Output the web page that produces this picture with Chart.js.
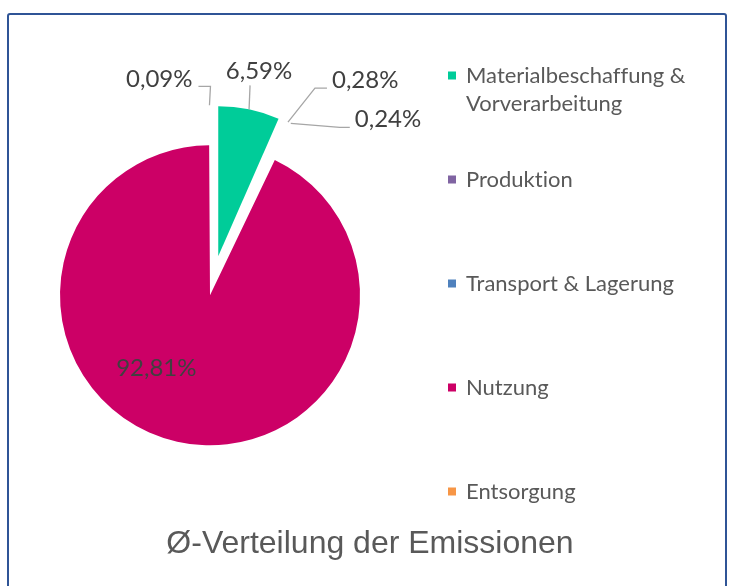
<!DOCTYPE html>
<html>
<head>
<meta charset="utf-8">
<script src="https://cdn.jsdelivr.net/npm/chart.js@4.4.1/dist/chart.umd.min.js"></script>
<style>
  html, body { margin: 0; padding: 0; background: #fff; }
  #wrap { position: relative; width: 731px; height: 586px; overflow: hidden; }
  #canvas_pie { position: absolute; left: 0; top: 0; }
  #frame { position: absolute; left: 7px; top: 13px; width: 720px; height: 640px; box-sizing: border-box;
           border: 2px solid #2f5496; border-radius: 3px; pointer-events: none; }
</style>
</head>
<body>
<div id="wrap">
  <canvas id="canvas_pie" width="731" height="586"></canvas>
  <div id="frame"></div>
</div>
<script>
// data
var categories = ['Materialbeschaffung & Vorverarbeitung', 'Produktion', 'Transport & Lagerung', 'Nutzung', 'Entsorgung'];
var shares = [6.59, 0.28, 0.24, 92.81, 0.09];
var sliceColors = ['#00CC99', '#8064A2', '#4F81BD', '#CC0066', '#F79646'];
var explode = [160, 160, 160, 0, 160];
var chartTitle = 'Ø-Verteilung der Emissionen';

// where each value label sits relative to the edge of its slice
var labelPlace = [
  {ex: 1, ey: -24, h: 0, tx: 9, ty: -14, align: 'center'},
  {ex: 27, ey: -34, h: 12, tx: 5, ty: -8, align: 'left'},
  {ex: 49, ey: 4, h: 10, tx: 5, ty: -8.5, align: 'left'},
  {inside: 0.6, tx: -34, ty: -15},
  {ex: 1, ey: -19, h: -12, tx: -6, ty: -7.5, align: 'right'}
];

function fmtPct(v) {
  return v.toFixed(2).replace('.', ',') + '%';
}

function wrapText(ctx, text, maxW) {
  var words = text.split(' '), lines = [], cur = '';
  words.forEach(function(w) {
    var t = cur ? cur + ' ' + w : w;
    if (cur && ctx.measureText(t).width > maxW) { lines.push(cur); cur = w; }
    else cur = t;
  });
  lines.push(cur);
  return lines;
}

// exploded slices keep the same radius as the rest of the pie
var explodeFix = {
  id: 'explodeFix',
  afterDatasetUpdate: function(chart, args) {
    args.meta.data.forEach(function(arc) {
      var off = (arc.options.offset || 0) / 4;
      arc.baseRadius = arc.outerRadius;
      if (!off) return;
      var ro = off * (1 - Math.sin(Math.min(Math.PI, arc.circumference)));
      var base = arc.outerRadius;
      if (arc.circumference * base > ro / Math.PI) {
        var widen = ro / Math.PI / base;
        arc.startAngle -= widen / 2;
        arc.endAngle += widen / 2;
      }
      arc.outerRadius = base - ro;
    });
  }
};

var sliceLabels = {
  id: 'sliceLabels',
  afterDatasetsDraw: function(chart) {
    var ctx = chart.ctx;
    var meta = chart.getDatasetMeta(0);
    ctx.save();
    ctx.font = '24px Lato';
    ctx.textBaseline = 'middle';
    meta.data.forEach(function(arc, i) {
      var p = labelPlace[i];
      var mid = (arc.startAngle + arc.endAngle) / 2;
      var shift = explode[i] / 4;
      var R = arc.baseRadius;
      var cx = arc.x + Math.cos(mid) * shift;
      var cy = arc.y + Math.sin(mid) * shift;
      var txt = fmtPct(shares[i]);
      ctx.fillStyle = '#404040';
      if (p.inside) {
        ctx.textAlign = 'center';
        ctx.fillText(txt, cx + Math.cos(mid) * R * p.inside + p.tx, cy + Math.sin(mid) * R * p.inside + p.ty);
        return;
      }
      var ax = cx + Math.cos(mid) * R, ay = cy + Math.sin(mid) * R;
      var bx = ax + p.ex, by = ay + p.ey;
      var ex = bx + p.h;
      ctx.strokeStyle = '#a6a6a6';
      ctx.lineWidth = 1.3;
      ctx.beginPath();
      ctx.moveTo(ax, ay);
      ctx.lineTo(bx, by);
      if (p.h) ctx.lineTo(ex, by);
      ctx.stroke();
      ctx.textAlign = p.align;
      ctx.fillText(txt, ex + p.tx, by + p.ty);
    });
    ctx.restore();
  }
};

// legend column on the right, as a layout box
var sideLegend = {
  id: 'sideLegend',
  beforeInit: function(chart) {
    var box = {
      position: 'right',
      weight: 10,
      fullSize: false,
      options: {},
      isHorizontal: function() { return false; },
      update: function(maxWidth, maxHeight) { this.width = 320; this.height = maxHeight; },
      draw: function() {
        var ctx = chart.ctx, self = this;
        ctx.save();
        ctx.font = '22px Lato';
        ctx.textRendering = 'optimizeSpeed';  // no "ti" ligature
        ctx.textBaseline = 'middle';
        ctx.textAlign = 'left';
        categories.forEach(function(name, i) {
          var y = self.top + 9.5 + i * 104;
          ctx.fillStyle = sliceColors[i];
          ctx.fillRect(self.left + 37, y - 4, 8, 8);
          ctx.fillStyle = '#595959';
          wrapText(ctx, name, 245).forEach(function(line, j) {
            ctx.fillText(line, self.left + 55, y + j * 28);
          });
        });
        ctx.restore();
      }
    };
    Chart.layouts.addBox(chart, box);
  }
};

var configPie = {
  type: 'pie',
  data: {
    labels: categories,
    datasets: [{
      data: shares,
      backgroundColor: sliceColors,
      offset: explode,
      hoverOffset: 0,
      borderWidth: 0,
      radius: 150
    }]
  },
  options: {
    responsive: false,
    animation: false,
    events: [],
    layout: { padding: { left: 9, right: 0, top: 66, bottom: 23 } },
    plugins: {
      legend: { display: false },
      tooltip: { enabled: false },
      title: {
        display: true,
        position: 'bottom',
        text: chartTitle,
        color: '#595959',
        padding: 0,
        font: { family: 'Liberation Sans', size: 32, weight: 'normal' }
      }
    }
  },
  plugins: [explodeFix, sliceLabels, sideLegend]
};

var ctx_pie = document.getElementById('canvas_pie').getContext('2d');
new Chart(ctx_pie, configPie);
</script>
</body>
</html>
